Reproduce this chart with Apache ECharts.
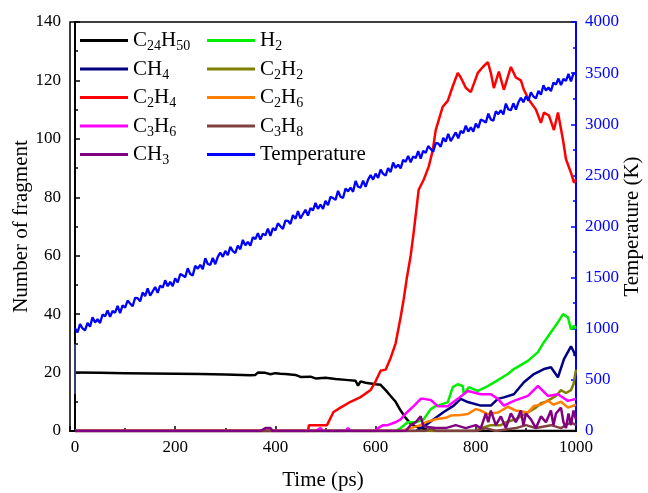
<!DOCTYPE html>
<html><head><meta charset="utf-8">
<script src="https://cdn.jsdelivr.net/npm/echarts@6/dist/echarts.min.js"></script>
<style>html,body{margin:0;padding:0;background:#fff}#c{width:648px;height:493px}</style>
</head><body><div id="c"></div><script>
// ---- data (time in ps, counts / K) ----
const c24h50 = [[0,20],[50,19.9],[100,19.8],[150,19.7],[200,19.6],[250,19.5],[300,19.3],[350,19.1],[360,19.2],[365,20],[380,19.9],[390,19.4],[400,19.8],[410,19.6],[420,19.5],[440,19.2],[450,18.5],[470,18.6],[480,18],[500,18.2],[520,17.8],[540,17.5],[560,17.2],[565,15.5],[570,17],[580,16.5],[600,16],[610,15.8],[620,14],[630,12],[640,10],[650,7],[660,4.5],[670,2.5],[680,1.5],[690,1],[700,0.5],[710,0],[1000,0]];
const h2 = [[0,0],[640,0],[650,1],[664,3],[680,3],[696,4],[710,7.5],[720,8.5],[744,9.8],[754,15],[764,16],[774,15.4],[776,12.6],[786,15],[804,13.7],[824,15.4],[840,17],[864,19.5],[876,21.2],[904,24],[924,27],[936,30.4],[950,33.8],[964,37.2],[974,40],[984,38.9],[990,34.8],[996,36],[1000,35]];
const ch4 = [[0,0],[680,0],[690,1],[696,1.5],[716,4],[736,6.5],[756,8.7],[770,11],[784,9.9],[810,8.7],[830,8.7],[844,11],[856,11.5],[876,12.6],[896,16.7],[916,19.5],[936,21.2],[950,21.8],[964,18.4],[976,24.6],[990,29],[1000,25.6]];
const c2h2 = [[0,0],[800,0],[810,1],[830,2],[850,2],[860,3],[880,4],[890,5],[900,6],[910,7],[920,8],[930,9.5],[940,10],[950,11],[960,12],[970,14],[980,13],[990,14],[995,16],[1000,21]];
const c2h4 = [[0,0],[465,0],[467,2],[503,2],[516,6.5],[530,8],[550,10],[570,11.6],[590,14],[600,17],[610,20.6],[620,21],[630,25],[640,30],[650,39],[656,45],[662,52],[670,60],[676,68],[686,82.6],[696,86],[706,90.5],[714,96],[720,103],[734,111],[744,113],[754,118],[764,122.6],[770,121],[780,117.5],[790,116],[804,122.6],[814,124.6],[824,126.3],[830,122.6],[836,117.4],[846,123],[856,116.8],[870,124.6],[880,121],[890,120],[896,116.8],[906,113.4],[920,110],[930,105.5],[936,109],[946,108],[956,103],[964,109],[974,99.7],[980,93],[990,88.4],[996,85],[1000,86]];
const c2h6 = [[0,0],[650,0],[670,1],[690,2],[700,3],[720,4],[740,4.5],[750,5.3],[770,5.5],[784,5.8],[800,7.5],[810,7],[824,5.8],[844,6.3],[864,8.3],[880,7],[904,6.3],[916,8.6],[930,9],[944,10.4],[955,9],[970,10],[984,8],[1000,9]];
const c3h6 = [[0,0],[480,0],[490,1],[495,0],[540,0],[545,1],[550,0],[600,0],[605,1],[615,2],[624,2],[640,3],[650,4],[660,6],[676,8.5],[690,11],[696,11],[710,10.6],[724,8.5],[744,8.5],[764,11],[784,13.7],[810,12.6],[830,12.6],[844,11],[856,8.7],[876,10.3],[904,12],[924,15.4],[944,12],[964,12.6],[984,10.3],[1000,11]];
const c3h8 = [[0,0],[700,0],[710,1],[720,0],[800,0],[820,1],[840,0],[880,1],[900,2],[920,1],[950,2],[970,1],[990,3],[1000,2]];
const ch3 = [[0,0],[370,0],[380,1],[390,1],[395,0],[660,0],[670,2],[680,3],[690,5],[695,2],[700,1.5],[720,1],[740,1],[760,2],[780,1],[800,2],[810,1],[820,6],[825,3],[830,7],[840,2],[850,5],[860,1],[870,6],[880,3],[890,7],[895,2],[900,6],[910,4],[920,1],[930,5],[940,3],[950,7],[955,2],[960,6],[970,8],[975,3],[980,1],[985,6],[990,2],[995,7],[1000,4]];
// temperature sampled every 5 ps from 0 to 1000 ps
const tempStep = 5;
const temperature = [
1005,963,1045,1003,985,1058,1021,1113,1061,1093,1056,1139,1121,1179,1116,1174,1157,1224,1152,1229,
1207,1275,1247,1220,1302,1300,1268,1355,1318,1395,1323,1366,1408,1351,1423,1401,1474,1416,1459,1416,
1494,1452,1534,1522,1504,1592,1535,1522,1615,1587,1625,1583,1690,1633,1625,1693,1631,1703,1746,1703,
1761,1719,1801,1759,1741,1814,1777,1869,1817,1849,1812,1895,1877,1935,1872,1930,1913,1980,1908,1985,
1963,2031,2003,1976,2058,2056,2024,2111,2074,2151,2079,2122,2164,2107,2179,2157,2230,2172,2215,2172,
2250,2208,2290,2278,2260,2348,2291,2278,2371,2343,2381,2339,2446,2389,2381,2449,2387,2459,2502,2459,
2517,2475,2557,2515,2497,2570,2533,2625,2573,2605,2568,2651,2633,2691,2628,2686,2669,2736,2664,2741,
2719,2787,2759,2732,2814,2812,2780,2867,2830,2907,2835,2878,2920,2863,2935,2913,2986,2928,2971,2928,
3006,2964,3046,3034,3016,3104,3047,3034,3127,3099,3137,3095,3202,3145,3137,3205,3143,3215,3258,3215,
3273,3231,3313,3271,3253,3326,3289,3381,3329,3361,3324,3407,3389,3447,3384,3442,3425,3492,3420,3497,
3495];
const tempSpike = [[0,360],[0,850]];
const names = ['C24H50','H2','CH4','C2H2','C2H4','C2H6','C3H6','C3H8','CH3','Temperature'];
const colors = ['#000000','#00ee00','#000080','#808000','#ff0000','#ff8000','#ff00ff','#804040','#800080','#0000ff'];
const legendCol1 = ['C24H50','CH4','C2H4','C3H6','CH3'];
const legendCol2 = ['H2','C2H2','C2H6','C3H8','Temperature'];

// ---- chart ----
const FONT = '"Liberation Serif","Times New Roman",serif';
const speciesData = [c24h50,h2,ch4,c2h2,c2h4,c2h6,c3h6,c3h8,ch3];
const series = speciesData.map((d,i)=>({
  name: names[i], type:'line', data:d, showSymbol:false, symbol:'none',
  lineStyle:{width:2.5,color:colors[i]}, itemStyle:{color:colors[i]}, z: 2+i
}));
series.push({name:'TempSpike',type:'line',yAxisIndex:1,data:tempSpike,showSymbol:false,symbol:'none',
  lineStyle:{width:1,color:'#6a78ff'},z:12});
series.push({name:'Temperature',type:'line',yAxisIndex:1,
  data: temperature.map((v,i)=>[i*tempStep, v]), showSymbol:false, symbol:'none',
  lineStyle:{width:2.3,color:'#0000ff'}, itemStyle:{color:'#0000ff'}, z:13});

const fmt = name => name.split(/(\d+)/).filter(Boolean)
  .map(p => /^\d+$/.test(p) ? '{s|'+p+'}' : '{n|'+p+'}').join('');
const legendText = {color:'#000', fontFamily:FONT, rich:{
  n:{fontSize:21, fontFamily:FONT, color:'#000', lineHeight:26},
  s:{fontSize:14, fontFamily:FONT, color:'#000', padding:[12,0,0,0]}
}};
const mkLegend = (data,left)=>({data, left, top:25, orient:'vertical', icon:'rect',
  itemWidth:48, itemHeight:3, itemGap:5, formatter:fmt, textStyle:legendText, selectedMode:false});

const plain = v => String(v);
const axisLbl = {fontFamily:FONT, fontSize:17, color:'#000', formatter:plain};
const chart = echarts.init(document.getElementById('c'), null, {renderer:'canvas'});
chart.setOption({
  animation:false,
  backgroundColor:'#fff',
  grid:{left:70,right:72,top:22,bottom:62,containLabel:false,outerBoundsMode:'none',
    show:true,borderColor:'#000',borderWidth:1.5,backgroundColor:'transparent'},
  legend:[mkLegend(legendCol1,75), mkLegend(legendCol2,202)],
  xAxis:{type:'value',min:-10,max:1000,splitNumber:5,
    name:'Time (ps)',nameLocation:'middle',nameGap:39,nameMoveOverlap:false,
    nameTextStyle:{fontFamily:FONT,fontSize:21,color:'#000'},
    axisLine:{show:true,onZero:false,lineStyle:{color:'#000',width:2}},
    axisTick:{show:true,inside:true,length:5,lineStyle:{color:'#000',width:1.5}},
    minorTick:{show:true,splitNumber:2,length:3,lineStyle:{color:'#000',width:1.5}},
    axisLabel:{...axisLbl,margin:8,showMinLabel:false},
    splitLine:{show:false}},
  yAxis:[{type:'value',min:0,max:140,interval:20,position:'left',
    name:'Number of fragment',nameLocation:'middle',nameGap:38,nameMoveOverlap:false,
    nameTextStyle:{fontFamily:FONT,fontSize:21,color:'#000'},
    axisLine:{show:true,lineStyle:{color:'#000',width:2}},
    axisTick:{show:true,inside:true,length:5,lineStyle:{color:'#000',width:1.5}},
    minorTick:{show:true,splitNumber:2,length:3,lineStyle:{color:'#000',width:1.5}},
    axisLabel:{...axisLbl,margin:9},splitLine:{show:false}},
   {type:'value',min:0,max:4000,interval:500,position:'right',
    name:'Temperature (K)',nameLocation:'middle',nameGap:46,nameMoveOverlap:false,
    nameTextStyle:{fontFamily:FONT,fontSize:21,color:'#000'},
    axisLine:{show:true,lineStyle:{color:'#0000ff',width:2}},
    axisTick:{show:true,inside:true,length:5,lineStyle:{color:'#0000ff',width:1.5}},
    minorTick:{show:true,splitNumber:2,length:3,lineStyle:{color:'#0000ff',width:1.5}},
    axisLabel:{...axisLbl,color:'#0000ff',margin:9},splitLine:{show:false}}],
  series
});
</script></body></html>
